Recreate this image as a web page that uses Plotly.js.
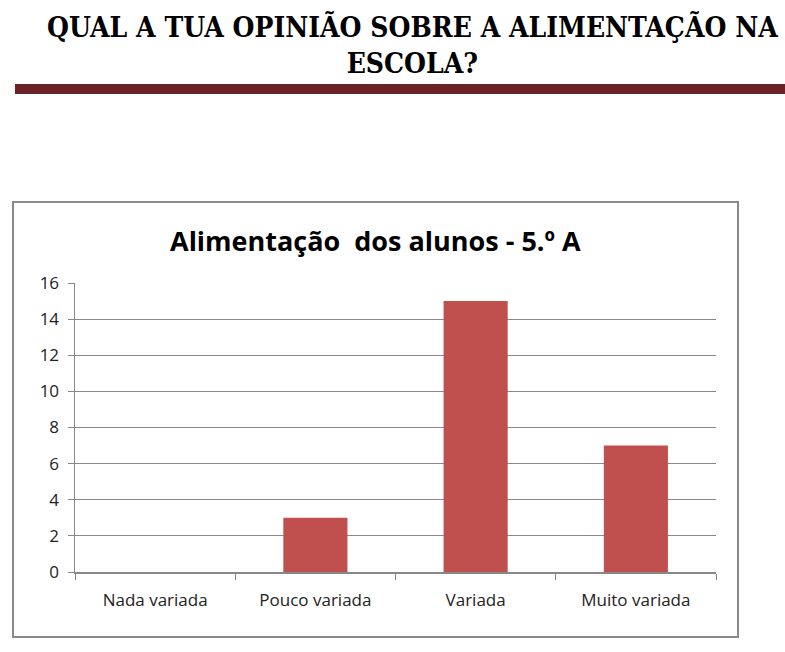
<!DOCTYPE html>
<html>
<head>
<meta charset="utf-8">
<script src="https://cdn.plot.ly/plotly-3.0.1.min.js"></script>
<style>html,body{margin:0;padding:0;background:#fff;}#chart{width:785px;height:652px;}</style>
</head>
<body>
<div id="chart"></div>
<script>
const categories = ["Nada variada", "Pouco variada", "Variada", "Muito variada"];
const values = [0, 3, 15, 7];
const yTicks = [0, 2, 4, 6, 8, 10, 12, 14, 16];
const pageTitle = "QUAL A TUA OPINIÃO SOBRE A ALIMENTAÇÃO NA<br>ESCOLA?";
const chartTitle = "Alimentação  dos alunos - 5.º A";

const W = 785, H = 652;
const px = x => x / W;
const py = y => 1 - y / H;

const trace = {
  type: "bar",
  x: categories,
  y: values,
  marker: {color: "#C0504D"},
  hoverinfo: "none"
};

const layout = {
  width: W, height: H,
  margin: {l: 0, r: 0, t: 0, b: 0},
  paper_bgcolor: "#fff",
  plot_bgcolor: "#fff",
  showlegend: false,
  bargap: 0.6,
  font: {family: "'Open Sans', sans-serif", color: "#222", size: 17},
  xaxis: {
    domain: [px(75), px(716)],
    type: "category",
    showline: true, linecolor: "#888", linewidth: 1.5,
    ticks: "outside", tickson: "boundaries", ticklen: 6, tickcolor: "#888", tickwidth: 1,
    showgrid: false,
    tickfont: {size: 17, color: "#222"},
    ticklabelstandoff: 12,
    fixedrange: true
  },
  yaxis: {
    domain: [py(572), py(283)],
    range: [0, 16],
    tickvals: yTicks,
    ticktext: yTicks.map(String),
    showline: true, linecolor: "#888", linewidth: 1.5,
    ticks: "outside", ticklen: 6, tickcolor: "#888",
    showgrid: true, gridcolor: "#888", gridwidth: 1,
    zeroline: false,
    tickfont: {size: 17, color: "#222"},
    ticklabelstandoff: 5,
    fixedrange: true
  },
  shapes: [
    {type: "rect", xref: "paper", yref: "paper",
     x0: px(13), x1: px(738), y0: py(637), y1: py(202),
     line: {color: "#8a8a8a", width: 2}, fillcolor: "rgba(0,0,0,0)", layer: "below"},
    {type: "rect", xref: "paper", yref: "paper",
     x0: px(15), x1: px(785), y0: py(94), y1: py(84),
     line: {width: 0}, fillcolor: "#6B2328"}
  ],
  annotations: [
    {text: "<b>" + pageTitle + "</b>", xref: "paper", yref: "paper", x: px(412), y: py(45),
     xanchor: "center", yanchor: "middle", showarrow: false, align: "center",
     font: {family: "'DejaVu Serif Condensed', serif", size: 28, color: "#000"}},
    {text: "<b>" + chartTitle + "</b>", xref: "paper", yref: "paper", x: px(375), y: py(241),
     xanchor: "center", yanchor: "middle", showarrow: false,
     font: {family: "'Open Sans', sans-serif", size: 27, color: "#000"}}
  ]
};

Plotly.newPlot("chart", [trace], layout, {displayModeBar: false, staticPlot: true});
</script>
</body>
</html>
